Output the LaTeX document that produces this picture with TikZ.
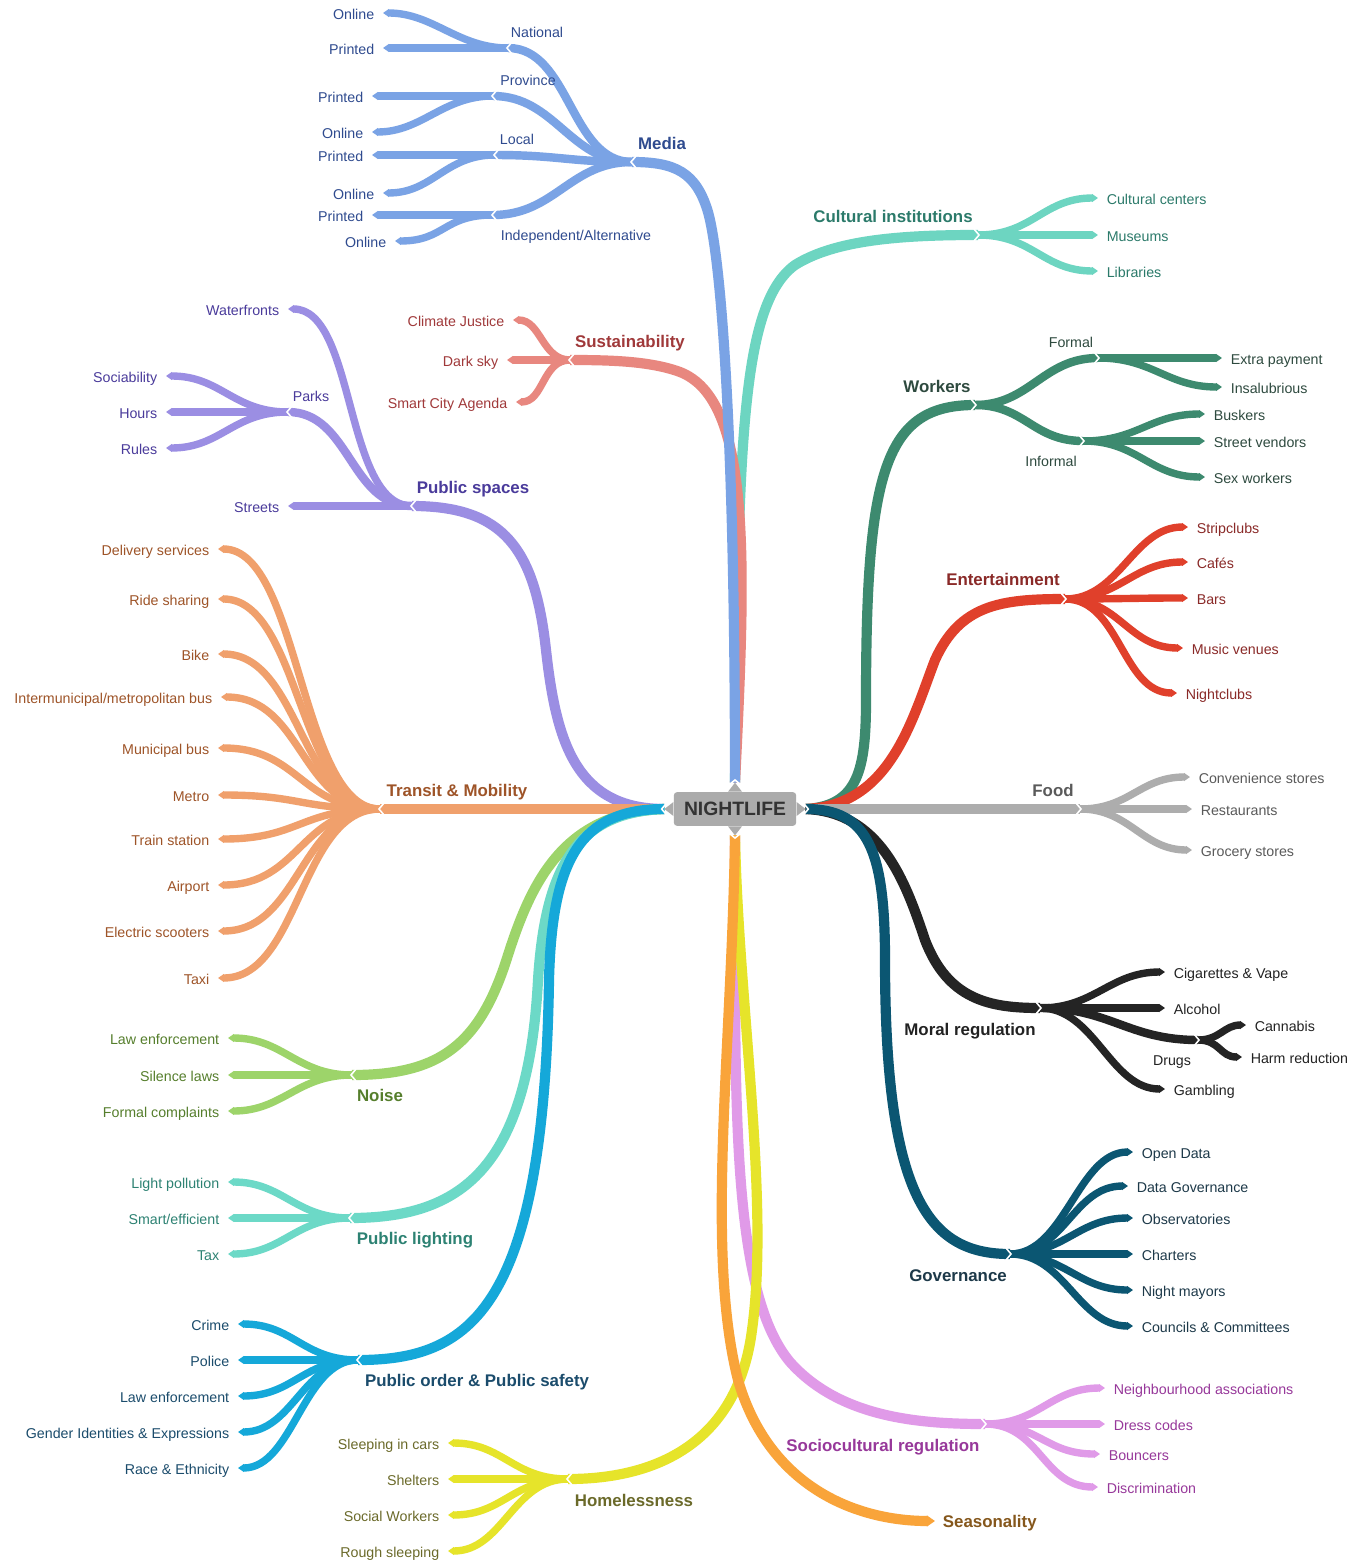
\documentclass[tikz,border=0pt]{standalone}
\usepackage{fontspec}
\setmainfont{Liberation Sans}
\usetikzlibrary{arrows.meta}
\definecolor{mediaC}{HTML}{7AA3E5}
\definecolor{mediaT}{HTML}{2F4B8F}
\definecolor{cultC}{HTML}{6DD5C1}
\definecolor{cultT}{HTML}{2B7A6A}
\definecolor{sustC}{HTML}{E8877F}
\definecolor{sustT}{HTML}{A0393A}
\definecolor{psC}{HTML}{9B8EE3}
\definecolor{psT}{HTML}{4A3B9B}
\definecolor{trC}{HTML}{F0A06C}
\definecolor{trT}{HTML}{9E5428}
\definecolor{noiseC}{HTML}{9DD46A}
\definecolor{noiseT}{HTML}{557E2C}
\definecolor{plC}{HTML}{6CD9C7}
\definecolor{plT}{HTML}{2D8273}
\definecolor{poC}{HTML}{15A8D9}
\definecolor{poT}{HTML}{1B4C6C}
\definecolor{homeC}{HTML}{E6E42A}
\definecolor{homeT}{HTML}{6B6A2A}
\definecolor{seasC}{HTML}{F9A43A}
\definecolor{seasT}{HTML}{85571C}
\definecolor{socC}{HTML}{E09AE8}
\definecolor{socT}{HTML}{97389A}
\definecolor{govC}{HTML}{0B5672}
\definecolor{govT}{HTML}{1D3949}
\definecolor{moralC}{HTML}{242424}
\definecolor{moralT}{HTML}{222222}
\definecolor{foodC}{HTML}{ADADAD}
\definecolor{foodT}{HTML}{5A5A5A}
\definecolor{entC}{HTML}{E0402B}
\definecolor{entT}{HTML}{8A2A28}
\definecolor{workC}{HTML}{3D8A6F}
\definecolor{workT}{HTML}{2E4A3F}
\definecolor{hubC}{HTML}{ABABAB}
\definecolor{hubT}{HTML}{333333}

\begin{document}
\begin{tikzpicture}[
  x=0.02cm, y=-0.02cm,
  leafend/.style={-{Triangle[length=0pt 0.8, width=0pt 1.05]}},
  stem/.style={line width=5.8pt},
  fork/.style={line width=4.8pt},
  twig/.style={line width=4.2pt, leafend},
  hub/.style={fill=hubC, rounded corners=2pt, minimum width=69.7pt,
    minimum height=19.3pt, inner sep=0pt, text=hubT,
    font=\fontsize{11}{13}\selectfont\bfseries},
  cat/.style={font=\fontsize{9.6}{11.5}\selectfont\bfseries,
    inner sep=1pt, outer sep=3.5pt, text height=.72em, text depth=0pt},
  txt/.style={font=\fontsize{8.1}{10}\selectfont,
    inner sep=1.5pt, outer sep=3.5pt, text height=.72em, text depth=0pt},
  leafL/.style={txt, anchor=east},
  leafR/.style={txt, anchor=west},
  notchL/.pic={\draw[white, line width=0.9pt] (4,-6) -- (-1,0) -- (4,6);},
  notchR/.pic={\draw[white, line width=0.9pt] (-4,-6) -- (1,0) -- (-4,6);},
  notchU/.pic={\draw[white, line width=0.9pt] (-6,4) -- (0,-1) -- (6,4);},
  notchD/.pic={\draw[white, line width=0.9pt] (-6,-4) -- (0,1) -- (6,-4);},
]

% Canvas
\fill[white] (0,0) rectangle (1362,1564);
\useasboundingbox (0,0) rectangle (1362,1564);

% === Hub ===
\node[hub] (hub) at (735,809) {NIGHTLIFE};
\fill[hubC] (hub.north) ++(-7,0) -- ++(7,-9) coordinate (hub-n) -- ++(7,9) -- cycle;
\fill[hubC] (hub.south) ++(-7,0) -- ++(7,9) coordinate (hub-s) -- ++(7,-9) -- cycle;
\fill[hubC] (hub.west) ++(0,-7) -- ++(-9,7) coordinate (hub-w) -- ++(9,7) -- cycle;
\fill[hubC] (hub.east) ++(0,-7) -- ++(9,7) coordinate (hub-e) -- ++(-9,7) -- cycle;

% ============================================================
% TOP: Cultural institutions, Sustainability, Media
% ============================================================
\coordinate (cult) at (978,235);
\draw[stem, cultC] (hub-n) .. controls (738,450) and (740,305) .. (795,265)
  .. controls (835,240) and (900,235) .. (cult);
\node[cat, text=cultT] (cult-l) at (893,216) {Cultural institutions};
\foreach \y/\t in {198/Cultural centers, 235/Museums, 271/Libraries}{
  \node[leafR, text=cultT] (cult-\y) at (1098,\y) {\t};
  \draw[twig, cultC] (cult) .. controls +(55,0) and +(-55,0) .. (cult-\y.west);
}

\coordinate (sust) at (570,360);
\draw[stem, sustC] (hub-n) .. controls (746,560) and (752,400) .. (680,372)
  .. controls (650,361) and (610,360) .. (sust);
\node[cat, text=sustT] (sust-l) at (630,341) {Sustainability};
\foreach \x/\y/\t in {513/320/Climate Justice, 507/360/Dark sky, 516/402/Smart City Agenda}{
  \node[leafL, text=sustT] (sust-\y) at (\x,\y) {\t};
  \draw[twig, sustC] (sust) .. controls +(-28,0) and +(28,0) .. (sust-\y.east);
}

\coordinate (media) at (632,162);
\draw[stem, mediaC] (hub-n) .. controls (735,450) and (722,262) .. (708,212)
  .. controls (696,172) and (675,162) .. (media);
\node[cat, text=mediaT] (media-l) at (662,143) {Media};
\coordinate (nat) at (508,48);
\coordinate (prov) at (493,96);
\coordinate (loc) at (495,155);
\coordinate (ind) at (493,215);
\foreach \j in {nat,prov,loc,ind}
  \draw[fork, mediaC] (media) .. controls +(-62,0) and +(62,0) .. (\j);
\node[txt, text=mediaT] (nat-l) at (537,31) {National};
\node[txt, text=mediaT] (prov-l) at (528,79) {Province};
\node[txt, text=mediaT] (loc-l) at (517,138) {Local};
\node[txt, text=mediaT] (ind-l) at (576,234) {Independent/Alternative};
\foreach \j/\x/\y/\t in {nat/383/13/Online, nat/383/48/Printed,
    prov/372/96/Printed, prov/372/132/Online, loc/372/155/Printed,
    loc/383/193/Online, ind/372/215/Printed, ind/395/241/Online}{
  \node[leafL, text=mediaT] (media-\y) at (\x,\y) {\t};
  \draw[twig, mediaC] (\j) .. controls +(-50,0) and +(50,0) .. (media-\y.east);
}

% ============================================================
% LEFT: Public spaces, Transit, Noise, Public lighting, Public order
% ============================================================
\coordinate (ps) at (412,506);
\draw[stem, psC] (hub-w) .. controls (575,809) and (556,740) .. (546,650)
  .. controls (535,550) and (505,506) .. (ps);
\node[cat, text=psT] (ps-l) at (473,487) {Public spaces};
\node[leafL, text=psT] (wat) at (288,309) {Waterfronts};
\draw[twig, psC] (ps) .. controls +(-68,0) and +(68,0) .. (wat.east);
\coordinate (parks) at (288,412);
\draw[fork, psC] (ps) .. controls +(-62,0) and +(62,0) .. (parks);
\node[txt, text=psT] (parks-l) at (311,395) {Parks};
\node[leafL, text=psT] (str) at (288,506) {Streets};
\draw[twig, psC] (ps) -- (str.east);
\foreach \y/\t in {376/Sociability, 412/Hours, 448/Rules}{
  \node[leafL, text=psT] (parks-\y) at (166,\y) {\t};
  \draw[twig, psC] (parks) .. controls +(-55,0) and +(55,0) .. (parks-\y.east);
}

\coordinate (tr) at (380,809);
\draw[stem, trC] (hub-w) -- (tr);
\node[cat, text=trT] (tr-l) at (457,790) {Transit \& Mobility};
\foreach \x/\y/\t in {218/549/Delivery services, 218/599/Ride sharing,
    218/654/Bike, 221/697/{Intermunicipal/metropolitan bus},
    218/748/Municipal bus, 218/795/Metro, 218/839/Train station,
    218/885/Airport, 218/931/Electric scooters, 218/978/Taxi}{
  \node[leafL, text=trT] (tr-\y) at (\x,\y) {\t};
  \draw[twig, trC] (tr) .. controls +(-80,0) and +(82,0) .. (tr-\y.east);
}

\coordinate (noise) at (352,1075);
\draw[stem, noiseC] (hub-w) .. controls (565,812) and (532,880) .. (508,955)
  .. controls (480,1045) and (440,1075) .. (noise);
\node[cat, text=noiseT] (noise-l) at (380,1095) {Noise};
\foreach \y/\t in {1038/Law enforcement, 1075/Silence laws, 1111/Formal complaints}{
  \node[leafL, text=noiseT] (noise-\y) at (228,\y) {\t};
  \draw[twig, noiseC] (noise) .. controls +(-55,0) and +(55,0) .. (noise-\y.east);
}

\coordinate (pl) at (350,1218);
\draw[stem, plC] (hub-w) .. controls (575,812) and (545,870) .. (538,980)
  .. controls (528,1170) and (460,1218) .. (pl);
\node[cat, text=plT] (pl-l) at (415,1238) {Public lighting};
\foreach \y/\t in {1182/Light pollution, 1218/{Smart/efficient}, 1254/Tax}{
  \node[leafL, text=plT] (pl-\y) at (228,\y) {\t};
  \draw[twig, plC] (pl) .. controls +(-55,0) and +(55,0) .. (pl-\y.east);
}

\coordinate (po) at (358,1360);
\draw[stem, poC] (hub-w) .. controls (580,809) and (552,860) .. (549,980)
  .. controls (544,1310) and (470,1360) .. (po);
\node[cat, text=poT] (po-l) at (477,1380) {Public order \& Public safety};
\foreach \y/\t in {1324/Crime, 1360/Police, 1396/Law enforcement,
    1432/Gender Identities \& Expressions, 1468/Race \& Ethnicity}{
  \node[leafL, text=poT] (po-\y) at (238,\y) {\t};
  \draw[twig, poC] (po) .. controls +(-55,0) and +(55,0) .. (po-\y.east);
}

% ============================================================
% BOTTOM: Sociocultural regulation, Homelessness, Seasonality
% ============================================================
\coordinate (soc) at (985,1424);
\draw[stem, socC] (hub-s) .. controls (735,1100) and (730,1290) .. (790,1362)
  .. controls (840,1418) and (920,1424) .. (soc);
\node[cat, text=socT] (soc-l) at (883,1445) {Sociocultural regulation};
\foreach \x/\y/\t in {1105/1388/Neighbourhood associations, 1105/1424/Dress codes,
    1100/1454/Bouncers, 1098/1487/Discrimination}{
  \node[leafR, text=socT] (soc-\y) at (\x,\y) {\t};
  \draw[twig, socC] (soc) .. controls +(55,0) and +(-55,0) .. (soc-\y.west);
}

\coordinate (home) at (568,1479);
\draw[stem, homeC] (hub-s) .. controls (738,1000) and (770,1200) .. (752,1330)
  .. controls (738,1440) and (660,1479) .. (home);
\node[cat, text=homeT] (home-l) at (634,1500) {Homelessness};
\foreach \y/\t in {1443/Sleeping in cars, 1479/Shelters, 1515/Social Workers, 1551/Rough sleeping}{
  \node[leafL, text=homeT] (home-\y) at (448,\y) {\t};
  \draw[twig, homeC] (home) .. controls +(-55,0) and +(55,0) .. (home-\y.east);
}

\node[cat, anchor=west, text=seasT] (seas) at (935,1521) {Seasonality};
\draw[stem, leafend, seasC] (hub-s) .. controls (732,1050) and (705,1250) .. (738,1380)
  .. controls (770,1490) and (860,1521) .. (seas.west);

% ============================================================
% RIGHT: Workers, Entertainment, Food, Moral regulation, Governance
% ============================================================
\coordinate (work) at (975,405);
\draw[stem, workC] (hub-e) .. controls (858,806) and (866,770) .. (866,700)
  .. controls (866,470) and (885,405) .. (work);
\node[cat, text=workT] (work-l) at (937,386) {Workers};
\coordinate (formal) at (1098,358);
\coordinate (informal) at (1083,441);
\draw[fork, workC] (work) .. controls +(55,0) and +(-55,0) .. (formal);
\draw[fork, workC] (work) .. controls +(50,0) and +(-50,0) .. (informal);
\node[txt, text=workT] (formal-l) at (1071,341) {Formal};
\node[txt, text=workT] (informal-l) at (1051,460) {Informal};
\foreach \y/\t in {358/Extra payment, 387/Insalubrious}{
  \node[leafR, text=workT] (formal-\y) at (1222,\y) {\t};
  \draw[twig, workC] (formal) .. controls +(55,0) and +(-55,0) .. (formal-\y.west);
}
\foreach \y/\t in {414/Buskers, 441/Street vendors, 477/Sex workers}{
  \node[leafR, text=workT] (informal-\y) at (1205,\y) {\t};
  \draw[twig, workC] (informal) .. controls +(55,0) and +(-55,0) .. (informal-\y.west);
}

\coordinate (ent) at (1065,599);
\draw[stem, entC] (hub-e) .. controls (890,806) and (912,720) .. (935,660)
  .. controls (960,605) and (1000,599) .. (ent);
\node[cat, text=entT] (ent-l) at (1003,579) {Entertainment};
\foreach \x/\y/\t in {1188/527/Stripclubs, 1188/562/Cafés, 1188/598/Bars,
    1183/648/Music venues, 1177/693/Nightclubs}{
  \node[leafR, text=entT] (ent-\y) at (\x,\y) {\t};
  \draw[twig, entC] (ent) .. controls +(55,0) and +(-55,0) .. (ent-\y.west);
}

\coordinate (food) at (1080,809);
\draw[stem, foodC] (hub-e) -- (food);
\node[cat, text=foodT] (food-l) at (1053,790) {Food};
\foreach \x/\y/\t in {1190/777/Convenience stores, 1192/809/Restaurants, 1192/850/Grocery stores}{
  \node[leafR, text=foodT] (food-\y) at (\x,\y) {\t};
  \draw[twig, foodC] (food) .. controls +(50,0) and +(-50,0) .. (food-\y.west);
}

\coordinate (moral) at (1040,1008);
\draw[stem, moralC] (hub-e) .. controls (880,812) and (905,880) .. (925,940)
  .. controls (948,1000) and (990,1008) .. (moral);
\node[cat, text=moralT] (moral-l) at (970,1029) {Moral regulation};
\foreach \y/\t in {972/Cigarettes \& Vape, 1008/Alcohol, 1089/Gambling}{
  \node[leafR, text=moralT] (moral-\y) at (1165,\y) {\t};
  \draw[twig, moralC] (moral) .. controls +(55,0) and +(-55,0) .. (moral-\y.west);
}
\coordinate (drugs) at (1198,1040);
\draw[fork, moralC] (moral) .. controls +(70,0) and +(-70,0) .. (drugs);
\node[txt, text=moralT] (drugs-l) at (1172,1059) {Drugs};
\foreach \x/\y/\t in {1246/1025/Cannabis, 1242/1057/Harm reduction}{
  \node[leafR, text=moralT] (drugs-\y) at (\x,\y) {\t};
  \draw[twig, moralC] (drugs) .. controls +(22,0) and +(-22,0) .. (drugs-\y.west);
}

\coordinate (gov) at (1010,1254);
\draw[stem, govC] (hub-e) .. controls (868,809) and (885,850) .. (885,960)
  .. controls (885,1200) and (930,1254) .. (gov);
\node[cat, text=govT] (gov-l) at (958,1275) {Governance};
\foreach \x/\y/\t in {1133/1152/Open Data, 1128/1186/Data Governance,
    1133/1218/Observatories, 1133/1254/Charters, 1133/1290/Night mayors,
    1133/1326/Councils \& Committees}{
  \node[leafR, text=govT] (gov-\y) at (\x,\y) {\t};
  \draw[twig, govC] (gov) .. controls +(55,0) and +(-55,0) .. (gov-\y.west);
}

% === Notches at the junctions ===
\foreach \j in {media,nat,prov,loc,ind,sust,ps,parks,tr,noise,pl,po,home}
  \pic at (\j) {notchL};
\foreach \j in {cult,soc,work,formal,informal,ent,food,moral,drugs,gov}
  \pic at (\j) {notchR};
\pic at ([xshift=-1pt]hub-w) {notchL};
\pic at ([xshift=1pt]hub-e) {notchR};
\pic at ([yshift=1pt]hub-n) {notchU};
\pic at ([yshift=-1pt]hub-s) {notchD};

\end{tikzpicture}
\end{document}
